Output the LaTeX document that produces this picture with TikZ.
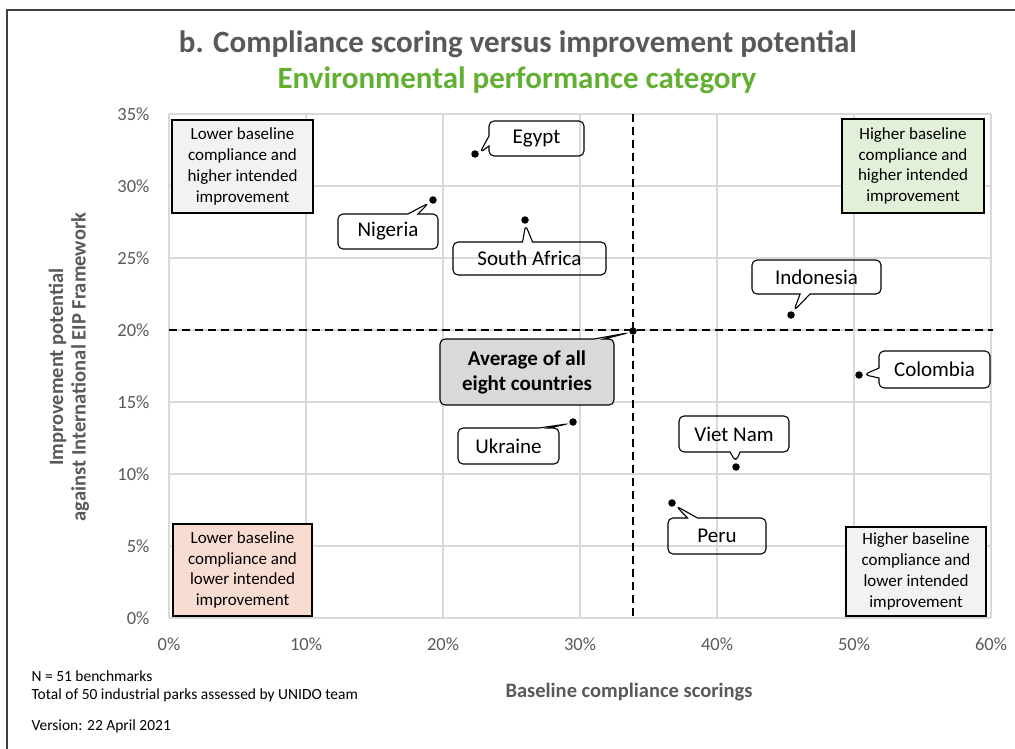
\documentclass[tikz,border=0pt]{standalone}
\usepackage{fontspec}
\setmainfont{Carlito}
\usetikzlibrary{shapes.callouts}
\definecolor{titlegray}{HTML}{595959}
\definecolor{titlegreen}{HTML}{62B032}
\definecolor{gridgray}{HTML}{D9D9D9}
\definecolor{boxgray}{HTML}{F2F2F2}
\definecolor{boxgreen}{HTML}{E2F0D9}
\definecolor{boxpink}{HTML}{F8DCD2}
\definecolor{avggray}{HTML}{D9D9D9}
\tikzstyle{gridline} = [draw=gridgray, line width=1.2pt]
\tikzstyle{avgline} = [draw, line width=1.3pt, dash pattern=on 8pt off 5pt]
\tikzstyle{ticklabel} = [text=titlegray, font=\fontsize{18.5}{22}\selectfont]
\tikzstyle{quadbox} = [draw, line width=1.4pt, align=center, font=\fontsize{17}{20.7}\selectfont, inner sep=0pt]
\tikzstyle{country} = [rectangle callout, draw, rounded corners=5pt, line width=1.1pt, font=\fontsize{21}{25}\selectfont, callout pointer width=10pt, callout pointer shorten=5pt, inner sep=0pt]
\tikzstyle{datapoint} = [circle, fill, inner sep=0pt, minimum size=7.5pt]
\tikzstyle{footnote} = [anchor=base west, font=\fontsize{15.5}{18}\selectfont]

\begin{document}
\begin{tikzpicture}[x=1pt, y=-1pt]
\useasboundingbox (0,0) rectangle (1015,749);
\fill[white] (0,0) rectangle (1015,749);
\draw[line width=1.3pt, black!75] (7,749) -- (7,10) -- (1015,10);

% titles
\node[anchor=base, text=titlegray, font=\bfseries\fontsize{31}{36}\selectfont] (title) at (518,53) {b. Compliance scoring versus improvement potential};
\node[anchor=base, text=titlegreen, font=\bfseries\fontsize{31}{36}\selectfont] (subtitle) at (517,89) {Environmental performance category};

% grid and tick labels
\foreach \lab [count=\k from 0] in {0,5,...,35} {
  \draw[gridline] (169,{618-72*\k}) -- (991,{618-72*\k});
  \node[ticklabel, anchor=east] at (153,{618-72*\k}) {\lab\%};
}
\foreach \lab [count=\k from 0] in {0,10,...,60} {
  \draw[gridline] ({169+137*\k},114) -- ({169+137*\k},618);
  \node[ticklabel] at ({169+137*\k},644) {\lab\%};
}

% axis titles
\node[rotate=90, align=center, text=titlegray, font=\bfseries\fontsize{20.5}{22.5}\selectfont] (ytitle) at (69,367) {Improvement potential\\against International EIP Framework};
\node[text=titlegray, font=\bfseries\fontsize{20.5}{24}\selectfont] (xtitle) at (629,692) {Baseline compliance scorings};

% quadrant boxes
\node[quadbox, fill=boxgray, minimum width=141, minimum height=93] (topleft) at (242.5,166.5) {Lower baseline\\compliance and\\higher intended\\improvement};
\node[quadbox, fill=boxgreen, minimum width=142, minimum height=94] (topright) at (913,166) {Higher baseline\\compliance and\\higher intended\\improvement};
\node[quadbox, fill=boxpink, minimum width=139, minimum height=92] (bottomleft) at (242.5,570) {Lower baseline\\compliance and\\lower intended\\improvement};
\node[quadbox, fill=boxgray, minimum width=140, minimum height=89] (bottomright) at (916,571.5) {Higher baseline\\compliance and\\lower intended\\improvement};

% average lines
\draw[avgline] (633,114) -- (633,618);
\draw[avgline] (169,330) -- (993,330);

% countries
\node[datapoint] (avg) at (633,331) {};
\node[datapoint] (egypt) at (475,154) {};
\node[datapoint] (nigeria) at (433,200) {};
\node[datapoint] (safrica) at (525,220) {};
\node[datapoint] (indonesia) at (791,315) {};
\node[datapoint] (colombia) at (859,375) {};
\node[datapoint] (vietnam) at (736,467) {};
\node[datapoint] (peru) at (672,503) {};
\node[datapoint] (ukraine) at (573,422) {};

\node[country, fill=avggray, align=center, font=\bfseries\fontsize{21}{25}\selectfont, minimum width=174, minimum height=66, callout absolute pointer=(avg)] (avglbl) at (527,372) {Average of all\\eight countries};
\node[country, minimum width=95, minimum height=35, callout absolute pointer=(egypt)] (egyptlbl) at (536.5,138.5) {Egypt};
\node[country, minimum width=100, minimum height=35, callout absolute pointer=(nigeria)] (nigerialbl) at (388,231.5) {Nigeria};
\node[country, minimum width=153, minimum height=33, callout absolute pointer=(safrica)] (safricalbl) at (529.5,258.5) {South Africa};
\node[country, minimum width=129, minimum height=34, callout absolute pointer=(indonesia)] (indonesialbl) at (816.5,277) {Indonesia};
\node[country, minimum width=111, minimum height=37, callout absolute pointer=(colombia)] (colombialbl) at (934.5,369.5) {Colombia};
\node[country, minimum width=110, minimum height=36, callout absolute pointer=(vietnam)] (vietnamlbl) at (734,434) {Viet Nam};
\node[country, minimum width=98, minimum height=36, callout absolute pointer=(peru)] (perulbl) at (717,536) {Peru};
\node[country, minimum width=101, minimum height=36, callout absolute pointer=(ukraine)] (ukrainelbl) at (508.5,446) {Ukraine};

% notes
\node[footnote] (nbench) at (28,681) {N = 51 benchmarks};
\node[footnote] (parks) at (28,699) {Total of 50 industrial parks assessed by UNIDO team};
\node[footnote] (version) at (28,730) {Version: 22 April 2021};
\end{tikzpicture}
\end{document}
